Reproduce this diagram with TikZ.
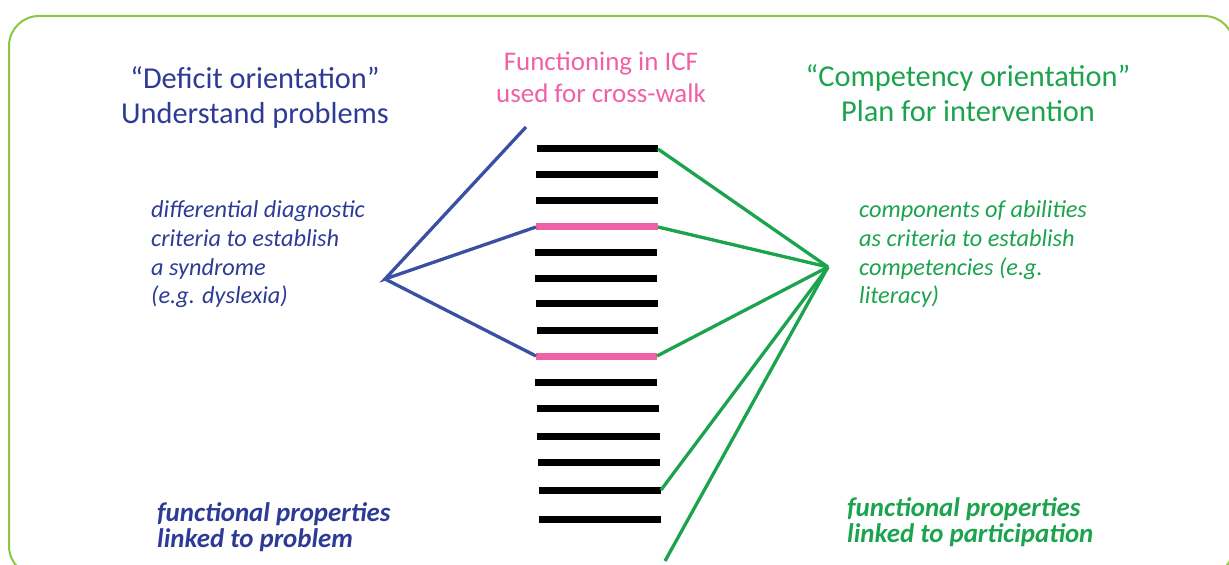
\documentclass[tikz,border=0pt]{standalone}
\usepackage{fontspec}
\setmainfont{Carlito}
\usetikzlibrary{positioning}

\definecolor{framegreen}{HTML}{8DC63F}
\definecolor{defblue}{HTML}{2E3B96}
\definecolor{lineblue}{HTML}{3A51A3}
\definecolor{compgreen}{HTML}{1BA34E}
\definecolor{icfpink}{HTML}{F060A6}

\begin{document}
\begin{tikzpicture}[x=1bp, y=-1bp]
\tikzstyle{every node}=[inner sep=0pt, align=center];
\tikzstyle{title}=[font=\fontsize{30.5}{36}\selectfont];
\tikzstyle{crit}=[font=\fontsize{24.4}{29}\selectfont\itshape, align=left];
\tikzstyle{prop}=[font=\fontsize{27}{25.5}\selectfont\bfseries\itshape, align=left];
\tikzstyle{link}=[line width=3.3bp];
\useasboundingbox (0,0) rectangle (1229,565);
\draw[framegreen, line width=2bp, rounded corners=30bp] (9,16) rectangle (1234,576);
% headings
\node[title, defblue, anchor=base] (deficit) at (255,124) {“Deficit orientation”\\Understand problems};
\node[font=\fontsize{27}{33}\selectfont, icfpink, anchor=base] (icf) at (601,103) {Functioning in ICF\\used for cross-walk};
\node[title, compgreen, anchor=base] (compet) at (968,122) {“Competency orientation”\\Plan for intervention};
% criteria
\node[crit, defblue, anchor=base west] (diag) at (151,304) {differential diagnostic\\criteria to establish\\a syndrome\\(e.g. dyslexia)};
\node[crit, compgreen, anchor=base west] (abil) at (859,304) {components of abilities\\as criteria to establish\\competencies (e.g.\\literacy)};
\node[prop, defblue, anchor=base west] (probl) at (157,547) {functional properties\\linked to problem};
\node[prop, compgreen, anchor=base west] (partic) at (847,542) {functional properties\\linked to participation};
% ICF items
\foreach \y/\a/\b/\c [count=\n] in {149/537/658/black, 175/536/658/black, 201/536/658/black,
  227/536/658/icfpink, 253/535/657/black, 279/535/657/black, 304/536/658/black,
  330/537/658/black, 356/536/657/icfpink, 382/535/657/black, 408/537/659/black,
  436/537/660/black, 462/538/660/black, 490/539/661/black, 519/539/661/black}{
  \coordinate (l\n) at (\a,\y);
  \coordinate (r\n) at (\b,\y);
  \draw[\c, line width=7bp] (l\n) -- (r\n);
}
% links
\coordinate (bhub) at (385,279);
\coordinate (btop) at (526,127);
\coordinate (ghub) at (828,267);
\coordinate (gend) at (665,561);
\draw[link, lineblue] (btop) -- (bhub) -- (l4);
\draw[link, lineblue] (bhub) -- (l9);
\draw[link, compgreen] (ghub) -- (r1);
\draw[link, compgreen] (ghub) -- (r4);
\draw[link, compgreen] (ghub) -- (r9);
\draw[link, compgreen] (ghub) -- (r14);
\draw[link, compgreen] (ghub) -- (gend);
\end{tikzpicture}
\end{document}
